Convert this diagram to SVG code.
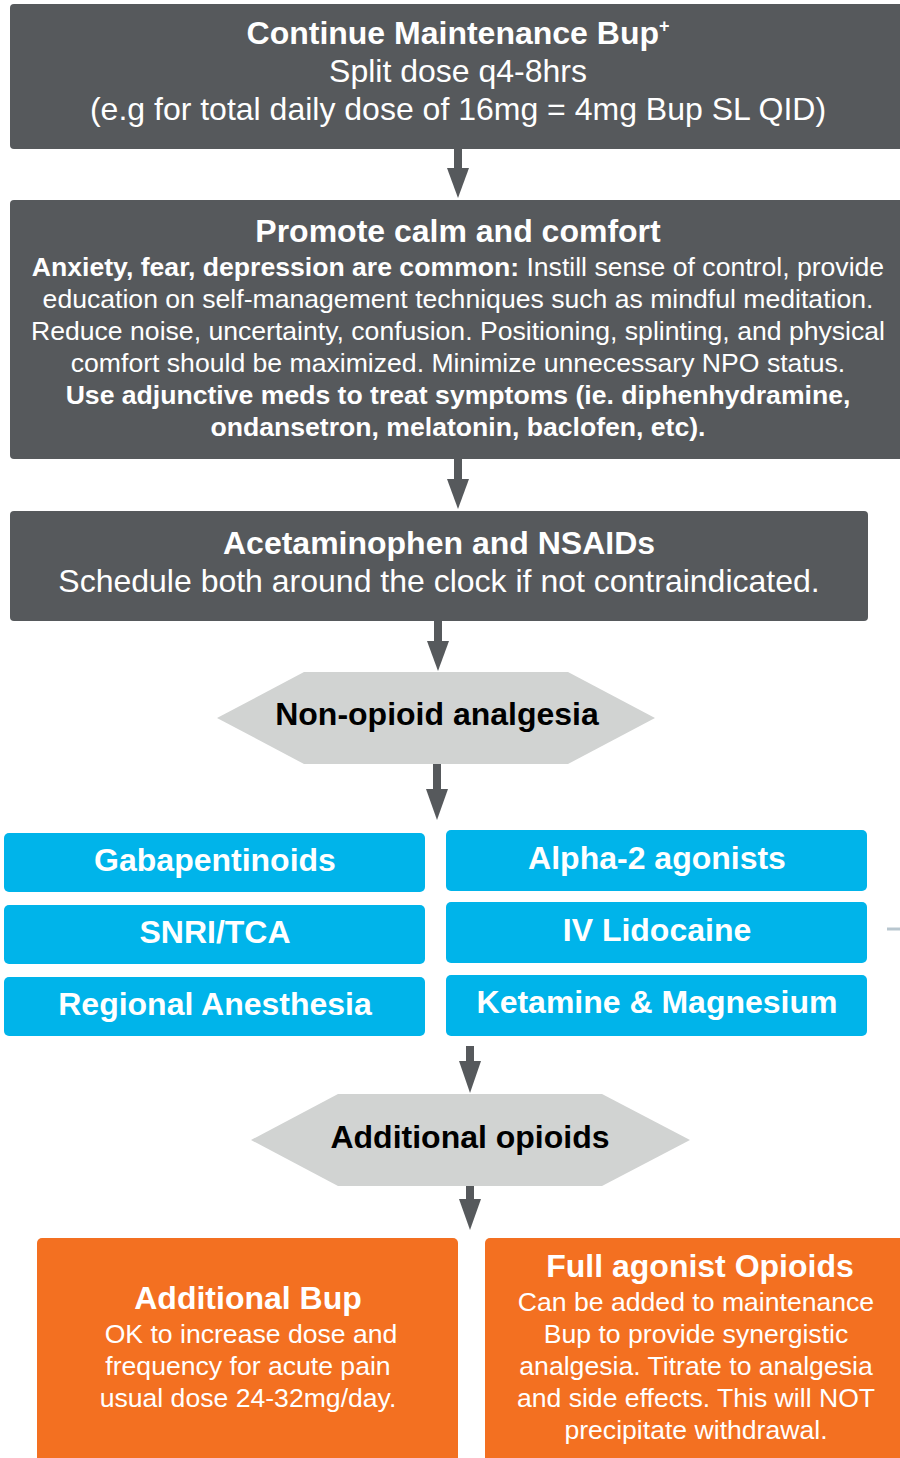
<svg xmlns="http://www.w3.org/2000/svg" width="900" height="1458" viewBox="0 0 900 1458">
<style>
.dk{fill:#56595c}
.hx{fill:#d1d3d2}
.bl{fill:#00b4ea}
.or{fill:#f37021}
text{font-family:"Liberation Sans",Arial,sans-serif;text-anchor:middle}
.w{fill:#fff}
.b{font-weight:bold}
.t32{font-size:32px}
.t27{font-size:26.6px}
.k{fill:#000}
</style>
<g id="connectors" stroke="#56595c" stroke-width="8" fill="none">
<path d="M458,149 V168" />
<path d="M447,168 L469,168 L458,198 Z" fill="#56595c" stroke="none"/>
<path d="M458,459 V480" />
<path d="M447,479 L469,479 L458,509 Z" fill="#56595c" stroke="none"/>
<path d="M438,621 V642" />
<path d="M427,641 L449,641 L438,671 Z" fill="#56595c" stroke="none"/>
<path d="M437,764 V790" />
<path d="M426,789 L448,789 L437,820 Z" fill="#56595c" stroke="none"/>
<path d="M470,1046 V1062" />
<path d="M459,1061 L481,1061 L470,1093 Z" fill="#56595c" stroke="none"/>
<path d="M470,1186 V1200" />
<path d="M459,1199 L481,1199 L470,1230 Z" fill="#56595c" stroke="none"/>
<path d="M887,929 H900" stroke="#b8c6cf" stroke-width="3"/>
</g>
<g id="n1">
<rect class="dk" x="10" y="4" width="900" height="145" rx="4"/>
<text class="w b t32" x="458" y="44">Continue Maintenance Bup<tspan font-size="18" dy="-12">+</tspan></text>
<text class="w t32" x="458" y="82">Split dose q4-8hrs</text>
<text class="w t32" x="458" y="120">(e.g for total daily dose of 16mg = 4mg Bup SL QID)</text>
</g>
<g id="n2">
<rect class="dk" x="10" y="200" width="900" height="259" rx="4"/>
<text class="w b t32" x="458" y="242">Promote calm and comfort</text>
<text class="w t27" x="458" y="276"><tspan class="b">Anxiety, fear, depression are common:</tspan> Instill sense of control, provide</text>
<text class="w t27" x="458" y="308">education on self-management techniques such as mindful meditation.</text>
<text class="w t27" x="458" y="340">Reduce noise, uncertainty, confusion. Positioning, splinting, and physical</text>
<text class="w t27" x="458" y="372">comfort should be maximized. Minimize unnecessary NPO status.</text>
<text class="w b t27" x="458" y="404">Use adjunctive meds to treat symptoms (ie. diphenhydramine,</text>
<text class="w b t27" x="458" y="436">ondansetron, melatonin, baclofen, etc).</text>
</g>
<g id="n3">
<rect class="dk" x="10" y="511" width="858" height="110" rx="4"/>
<text class="w b t32" x="439" y="554">Acetaminophen and NSAIDs</text>
<text class="w t32" x="439" y="592">Schedule both around the clock if not contraindicated.</text>
</g>
<g id="n4">
<polygon class="hx" points="217,718 304,672 568,672 655,718 568,764 304,764"/>
<text class="k b t32" x="437" y="725">Non-opioid analgesia</text>
</g>
<g id="n5"><rect class="bl" x="4" y="833" width="421" height="59" rx="5"/><text class="w b t32" x="215" y="871">Gabapentinoids</text></g>
<g id="n6"><rect class="bl" x="4" y="905" width="421" height="59" rx="5"/><text class="w b t32" x="215" y="943">SNRI/TCA</text></g>
<g id="n7"><rect class="bl" x="4" y="977" width="421" height="59" rx="5"/><text class="w b t32" x="215" y="1015">Regional Anesthesia</text></g>
<g id="n8"><rect class="bl" x="446" y="830" width="421" height="61" rx="5"/><text class="w b t32" x="657" y="869">Alpha-2 agonists</text></g>
<g id="n9"><rect class="bl" x="446" y="902" width="421" height="61" rx="5"/><text class="w b t32" x="657" y="941">IV Lidocaine</text></g>
<g id="n10"><rect class="bl" x="446" y="975" width="421" height="61" rx="5"/><text class="w b t32" x="657" y="1013">Ketamine &amp; Magnesium</text></g>
<g id="n11">
<polygon class="hx" points="251,1140 338,1094 602,1094 690,1140 602,1186 338,1186"/>
<text class="k b t32" x="470" y="1148">Additional opioids</text>
</g>
<g id="n12">
<rect class="or" x="37" y="1238" width="421" height="240" rx="5"/>
<text class="w b t32" x="248" y="1309">Additional Bup</text>
<text class="w t27" x="251" y="1343">OK to increase dose and</text>
<text class="w t27" x="248" y="1375">frequency for acute pain</text>
<text class="w t27" x="248" y="1407">usual dose 24-32mg/day.</text>
</g>
<g id="n13">
<rect class="or" x="485" y="1238" width="440" height="240" rx="5"/>
<text class="w b t32" x="700" y="1277">Full agonist Opioids</text>
<text class="w t27" x="696" y="1311">Can be added to maintenance</text>
<text class="w t27" x="696" y="1343">Bup to provide synergistic</text>
<text class="w t27" x="696" y="1375">analgesia. Titrate to analgesia</text>
<text class="w t27" x="696" y="1407">and side effects. This will NOT</text>
<text class="w t27" x="696" y="1439">precipitate withdrawal.</text>
</g>
</svg>
